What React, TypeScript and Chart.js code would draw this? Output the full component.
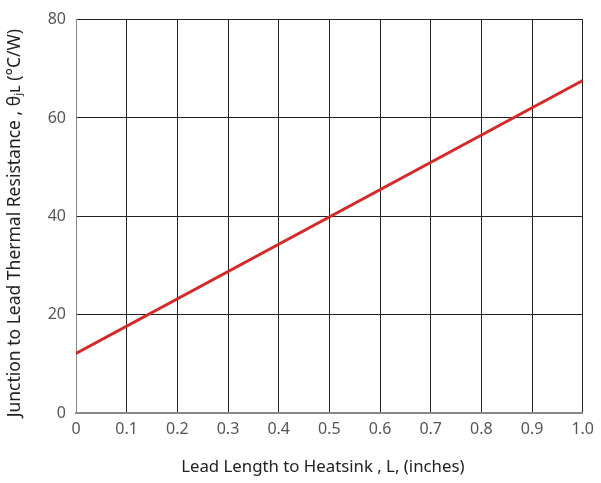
import React, { useEffect, useRef } from "react";
import { Chart, registerables } from "chart.js";

Chart.register(...registerables);

const leadLength = [0, 1.0];
const thermalResistance = [12.1, 67.6];
const xTicks = [0, 0.1, 0.2, 0.3, 0.4, 0.5, 0.6, 0.7, 0.8, 0.9, 1.0];
const yTicks = [0, 20, 40, 60, 80];

export default function App() {
  const ref = useRef<HTMLCanvasElement | null>(null);
  useEffect(() => {
    if (!ref.current) return;
    const chart = new Chart(ref.current, {
      type: "scatter",
      data: {
        datasets: [
          {
            data: leadLength.map((x, i) => ({ x, y: thermalResistance[i] })),
            showLine: true,
            borderColor: "#d42a2a",
            borderWidth: 3,
            pointRadius: 0,
            fill: false,
          },
        ],
      },
      options: {
        animation: false,
        responsive: false,
        layout: { padding: { top: 17, right: 18, left: 0, bottom: 0 } },
        plugins: { legend: { display: false }, tooltip: { enabled: false } },
        scales: {
          x: {
            type: "linear",
            min: 0,
            max: 1,
            afterBuildTicks: (s: any) => {
              s.ticks = xTicks.map((v) => ({ value: v }));
            },
            afterFit: (s: any) => {
              s.height = 70;
            },
            ticks: {
              color: "#555",
              font: { family: "Noto Sans", size: 16 },
              padding: 7,
              callback: (v: any) => (v === 0 ? "0" : Number(v).toFixed(1)),
              maxRotation: 0,
              autoSkip: false,
            },
            grid: { color: "#222", lineWidth: 1, drawTicks: false },
            border: { color: "#8a8a8a", width: 2 },
            title: {
              display: true,
              text: "Lead Length to Heatsink , L, (inches)   ",
              color: "#222",
              font: { family: "Noto Sans", size: 16.8 },
              padding: { top: 0, bottom: 6 },
            },
          },
          y: {
            type: "linear",
            min: 0,
            max: 80,
            afterBuildTicks: (s: any) => {
              s.ticks = yTicks.map((v) => ({ value: v }));
            },
            afterFit: (s: any) => {
              s.width = 76;
            },
            ticks: {
              color: "#555",
              font: { family: "Noto Sans", size: 16 },
              padding: 10,
            },
            grid: { color: "#222", lineWidth: 1, drawTicks: false },
            border: { color: "#8a8a8a", width: 1 },
            title: {
              display: true,
              text: "Junction to Lead Thermal Resistance , θ\u2c7c\u029f (°C/W)   ",
              color: "#222",
              font: { family: "Noto Sans", size: 17.5 },
              padding: { top: 5, bottom: 0 },
            },
          },
        },
      },
    });
    return () => chart.destroy();
  }, []);
  return (
    <div style={{ position: "fixed", left: 0, top: 0, width: 601, height: 483, background: "#fff" }}>
      <canvas ref={ref} width={601} height={483} />
    </div>
  );
}
